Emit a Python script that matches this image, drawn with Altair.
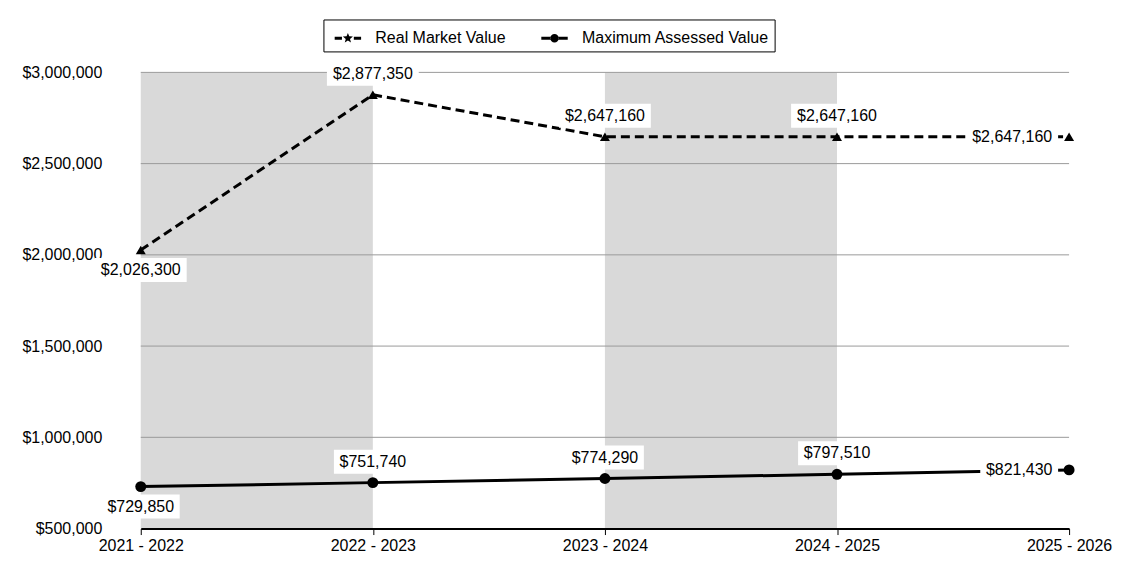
import math
import altair as alt
import pandas as pd

# ---------------- data ----------------
years = ["2021 - 2022", "2022 - 2023", "2023 - 2024", "2024 - 2025", "2025 - 2026"]
real_market_value = [2026300, 2877350, 2647160, 2647160, 2647160]
max_assessed_value = [729850, 751740, 774290, 797510, 821430]
label_place = ["below", "above", "above", "above", "left"]
shaded_spans = [("2021 - 2022", "2022 - 2023"), ("2023 - 2024", "2024 - 2025")]
y_ticks = [500000, 1000000, 1500000, 2000000, 2500000, 3000000]
series_names = ["Real Market Value", "Maximum Assessed Value"]

FONT = "Liberation Sans"
W, H = 930, 457

rows = []
for i, yr in enumerate(years):
    for sname, vals in zip(series_names, [real_market_value, max_assessed_value]):
        rows.append(dict(idx=i, year=yr, series=sname, value=vals[i],
                         label=f"${vals[i]:,}", place=label_place[i]))
df = pd.DataFrame(rows)

bands = pd.DataFrame([dict(start=years.index(a), end=years.index(b)) for a, b in shaded_spans])
grid = pd.DataFrame(dict(tick=[t for t in y_ticks if t != y_ticks[0]]))

label_expr = "[" + ",".join(f"'{y}'" for y in years) + "][datum.value]"

x_scale = alt.Scale(domain=[0, len(years) - 1], nice=False, zero=False)
x_axis = alt.Axis(values=list(range(len(years))), labelExpr=label_expr, title=None,
                  grid=False, domainColor="black", domainWidth=2, tickColor="black",
                  tickSize=6, tickWidth=1, labelFont=FONT, labelFontSize=16,
                  labelColor="black", labelPadding=3, labelFlush=False, zindex=1)
y_scale = alt.Scale(domain=[y_ticks[0], y_ticks[-1]], nice=False, zero=False)
y_axis = alt.Axis(values=y_ticks, format="$,.0f", title=None, grid=False, domain=False,
                  ticks=False, labelFont=FONT, labelFontSize=16, labelColor="black",
                  labelPadding=39, labelFlush=False)

X = alt.X("idx:Q", scale=x_scale, axis=x_axis)
Y = alt.Y("value:Q", scale=y_scale, axis=y_axis)

band_layer = alt.Chart(bands).mark_rect(color="#d9d9d9").encode(
    x=alt.X("start:Q", scale=x_scale, axis=x_axis),
    x2="end:Q",
    y=alt.datum(y_ticks[-1]),
    y2=alt.datum(y_ticks[0]),
)

grid_layer = alt.Chart(grid).mark_rule(color="#9a9a9a", strokeWidth=1).encode(
    y=alt.Y("tick:Q", scale=y_scale, axis=y_axis)
)

base = alt.Chart(df).encode(x=X, y=Y)
rmv_base = base.transform_filter(f"datum.series == '{series_names[0]}'")
mav_base = base.transform_filter(f"datum.series == '{series_names[1]}'")

line_rmv = rmv_base.mark_line(strokeWidth=3, color="black", strokeDash=[9, 5])
line_mav = mav_base.mark_line(strokeWidth=3, color="black")

pts_rmv = rmv_base.mark_point(shape="triangle-up", size=100, filled=True, color="black", opacity=1)
pts_mav = mav_base.mark_circle(size=120, color="black", opacity=1)


def label_layers(sname, box_w):
    out = []
    offsets = {"below": (0, 20), "above": (0, -21), "left": (-(box_w / 2 + 11), 0)}
    h = 24 / box_w
    path = f"M-1,{-h:.4f}L1,{-h:.4f}L1,{h:.4f}L-1,{h:.4f}Z"
    for place, (dx, dy) in offsets.items():
        sub = base.transform_filter(f"datum.series == '{sname}' && datum.place == '{place}'")
        out.append(sub.mark_point(shape=path, size=box_w ** 2, filled=True, fill="white",
                                  opacity=1, strokeWidth=0, xOffset=dx, yOffset=dy))
        out.append(sub.mark_text(font=FONT, fontSize=16, color="black", dx=dx, dy=dy,
                                 align="center", baseline="middle").encode(text="label:N"))
    return out


labels = label_layers(series_names[0], 92) + label_layers(series_names[1], 78)

# legend symbols (filled paths: line pieces + marker)
def star(R, r):
    pts = []
    for k in range(10):
        ang = -math.pi / 2 + k * math.pi / 5
        rad = R if k % 2 == 0 else r
        pts.append((rad * math.cos(ang), rad * math.sin(ang)))
    return "M" + "L".join(f"{px:.3f},{py:.3f}" for px, py in pts) + "Z"

t = 0.11
sym_rmv = (f"M-1,{-t}L-0.45,{-t}L-0.45,{t}L-1,{t}Z"
           f"M0.45,{-t}L1,{-t}L1,{t}L0.45,{t}Z" + star(0.4, 0.17))
c = 0.32
sym_mav = (f"M-1,{-t}L-0.3,{-t}L-0.3,{t}L-1,{t}Z"
           f"M0.3,{-t}L1,{-t}L1,{t}L0.3,{t}Z"
           f"M{-c},0A{c},{c} 0 1,0 {c},0A{c},{c} 0 1,0 {-c},0Z")

legend_layer = alt.Chart(df).transform_filter("false").mark_point(
    filled=True, color="black", opacity=1, size=700, strokeWidth=0
).encode(
    x=X, y=Y,
    shape=alt.Shape("series:N",
                    scale=alt.Scale(domain=series_names, range=[sym_rmv, sym_mav]),
                    legend=alt.Legend(orient="none", legendX=183, legendY=-53,
                                      direction="horizontal", title=None,
                                      labelFont=FONT, labelFontSize=16, labelColor="black",
                                      labelLimit=400,
                                      symbolSize=700, symbolFillColor="black",
                                      symbolStrokeWidth=0, symbolOpacity=1,
                                      strokeColor="black", fillColor="white",
                                      padding=5, columnPadding=29, labelOffset=14,
                                      symbolOffset=6)),
)

chart = alt.layer(band_layer, grid_layer, line_rmv, line_mav, pts_rmv, pts_mav, *labels,
                  legend_layer).properties(
    width=W, height=H,
    padding={"left": 13, "top": 10, "right": 5, "bottom": 5},
    background="white",
).configure_view(stroke=None)

chart.save("out.html", embed_options={"renderer": "svg", "actions": False})
